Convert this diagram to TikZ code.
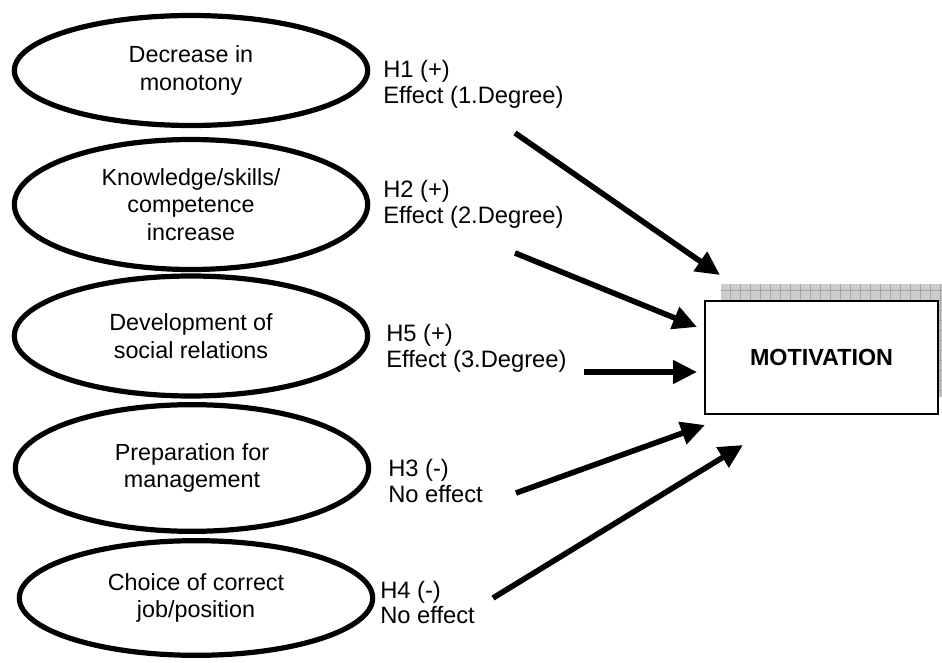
\documentclass[tikz,border=0pt]{standalone}
\usepackage{fontspec}
\setmainfont{Liberation Sans}
\usetikzlibrary{shapes.geometric,arrows.meta}
\tikzset{
  oval/.style={ellipse,draw,line width=3.9pt,inner sep=0pt,align=center,minimum width=265pt,
    font=\fontsize{17.5}{20.8}\selectfont},
  hyp/.style={anchor=west,inner sep=0pt,align=left,font=\fontsize{17.8}{19}\selectfont},
  conn/.style={line width=4.2pt,-{Triangle[length=18pt,width=17pt]}},
  mainbox/.style={draw,line width=1.5pt,fill=white,minimum width=174.75pt,minimum height=84.75pt,
    inner sep=0pt,font=\bfseries\fontsize{17.5}{20}\selectfont}
}
\begin{document}
\begin{tikzpicture}[x=0.75pt,y=-0.75pt]
\useasboundingbox (0,0) rectangle (942,663);
% ellipses
\node[oval,minimum height=82.5pt] (e1) at (191,70.5) {Decrease in\\monotony};
\node[oval,minimum height=97.5pt] (e2) at (191,204.5) {Knowledge/skills/\\competence\\increase};
\node[oval,minimum height=90pt] (e3) at (191,336) {Development of\\social relations};
\node[oval,minimum height=95pt] (e4) at (192,468) {Preparation for\\management};
\node[oval,minimum height=86pt] (e5) at (196,598) {Choice of correct\\job/position};
% shadow
\begin{scope}
\clip (0,0) rectangle (942,663);
\fill[gray!40] (721,284) rectangle (955,397);
\draw[gray!70,line width=0.4pt,step=7.5pt] (721,284) grid (955,397);
\end{scope}
% main box
\node[mainbox] (mot) at (821.5,357.5) {MOTIVATION};
% labels
\node[hyp] (h1) at (383,84.5) {H1 (+)\\Effect (1.Degree)};
\node[hyp] (h2) at (383,204.5) {H2 (+)\\Effect (2.Degree)};
\node[hyp] (h5) at (386,348.5) {H5 (+)\\Effect (3.Degree)};
\node[hyp] (h3) at (388,481) {H3 (-)\\No effect};
\node[hyp] (h4) at (380,602.5) {H4 (-)\\No effect};
% arrow ends
\coordinate (s1) at (515,133); \coordinate (t1) at (720,275);
\coordinate (s2) at (515,253); \coordinate (t2) at (697,327);
\coordinate (s3) at (584,372); \coordinate (t3) at (697,372);
\coordinate (s4) at (516,493); \coordinate (t4) at (705,425);
\coordinate (s5) at (493,598); \coordinate (t5) at (743,445);
\draw[conn] (s1) -- (t1);
\draw[conn] (s2) -- (t2);
\draw[conn] (s3) -- (t3);
\draw[conn] (s4) -- (t4);
\draw[conn] (s5) -- (t5);
\end{tikzpicture}
\end{document}
